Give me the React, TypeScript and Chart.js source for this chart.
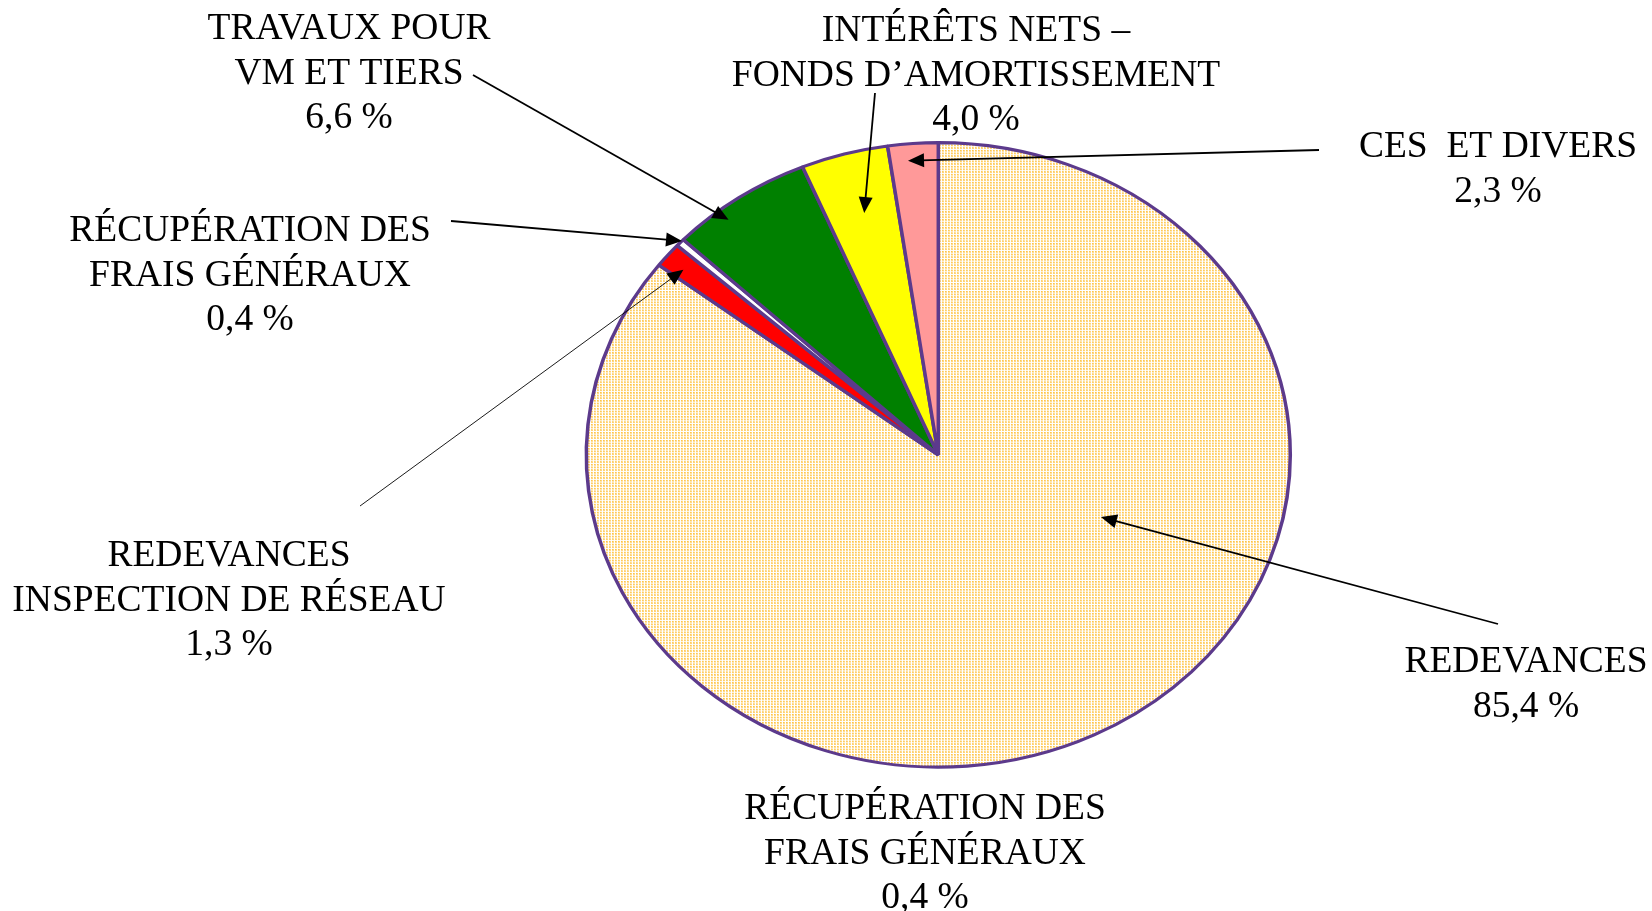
import React, { useEffect, useRef } from "react";
import { Chart, registerables } from "chart.js";

Chart.register(...registerables);

// ---- Data ----
const categories = [
  "REDEVANCES",
  "REDEVANCES INSPECTION DE RÉSEAU",
  "RÉCUPÉRATION DES FRAIS GÉNÉRAUX",
  "TRAVAUX POUR VM ET TIERS",
  "INTÉRÊTS NETS – FONDS D’AMORTISSEMENT",
  "CES  ET DIVERS",
];
const shares = [85.4, 1.3, 0.4, 6.6, 4.0, 2.3];
const sliceColors = ["pattern", "#FF0000", "#FFFFFF", "#008000", "#FFFF00", "#FF9999"];

// label text lines per slice (percentage appended from shares)
const labelLines = [
  ["REDEVANCES"],
  ["REDEVANCES", "INSPECTION DE RÉSEAU"],
  ["RÉCUPÉRATION DES", "FRAIS GÉNÉRAUX"],
  ["TRAVAUX POUR", "VM ET TIERS"],
  ["INTÉRÊTS NETS –", "FONDS D’AMORTISSEMENT"],
  ["CES  ET DIVERS"],
];

// ---- Layout (positions / styles) ----
const W = 1652;
const H = 911;
const RADIUS = 352;
const Y_SCALE = 0.887;
const BORDER = "#5C3A8C";
const FONT = "37.5px 'Liberation Serif', 'Times New Roman', serif";
const LINE_GAP = 44.5;

type Ann = {
  slice: number;
  x: number;
  y: number;
  from?: [number, number];
  frac?: number;
  rfrac?: number;
  lw?: number;
};
const annotations: Ann[] = [
  { slice: 0, x: 1526, y: 672, from: [1498, 624], frac: 0.3685, rfrac: 0.503, lw: 1.8 },
  { slice: 1, x: 229, y: 566, from: [360, 506], frac: 0.4, rfrac: 0.936, lw: 0.9 },
  { slice: 2, x: 250, y: 241, from: [451, 221], frac: 0.8, rfrac: 1.0, lw: 1.8 },
  { slice: 3, x: 349, y: 39, from: [473, 75], frac: 0.34, rfrac: 0.96, lw: 1.8 },
  { slice: 4, x: 976, y: 41, from: [875, 93], frac: 0.52, rfrac: 0.803, lw: 1.8 },
  { slice: 5, x: 1498, y: 157, from: [1319, 150], frac: 0.37, rfrac: 0.946, lw: 1.8 },
  { slice: 2, x: 925, y: 819 },
];

const fmtPct = (v: number) => v.toFixed(1).replace(".", ",") + " %";

function makePattern(): CanvasPattern | string {
  const c = document.createElement("canvas");
  c.width = 3;
  c.height = 3;
  const g = c.getContext("2d");
  if (!g) return "#FDE8BE";
  g.fillStyle = "#FFFFFF";
  g.fillRect(0, 0, 3, 3);
  g.fillStyle = "#FFD47A";
  g.fillRect(0, 0, 2, 2);
  g.fillStyle = "#FFC540";
  g.fillRect(0, 0, 1, 1);
  const p = g.createPattern(c, "repeat");
  return p || "#FDE8BE";
}

const ellipsePlugin = {
  id: "ellipse",
  beforeDatasetsDraw(chart: any) {
    const arc = chart.getDatasetMeta(0).data[0];
    if (!arc) return;
    const ctx = chart.ctx;
    ctx.save();
    ctx.translate(arc.x, arc.y);
    ctx.scale(1, Y_SCALE);
    ctx.translate(-arc.x, -arc.y);
  },
  afterDatasetsDraw(chart: any) {
    chart.ctx.restore();
  },
};

const labelPlugin = {
  id: "labels",
  afterDraw(chart: any) {
    const ctx: CanvasRenderingContext2D = chart.ctx;
    const arcs = chart.getDatasetMeta(0).data;
    ctx.save();
    for (const a of annotations) {
      // leader line + arrow
      if (a.from) {
        const arc: any = arcs[a.slice];
        const ang = arc.startAngle + (a.frac as number) * (arc.endAngle - arc.startAngle);
        const r = arc.outerRadius * (a.rfrac as number);
        const tx = arc.x + r * Math.cos(ang);
        const ty = arc.y + r * Math.sin(ang) * Y_SCALE;
        const [fx, fy] = a.from;
        const dx = tx - fx;
        const dy = ty - fy;
        const len = Math.hypot(dx, dy);
        const ux = dx / len;
        const uy = dy / len;
        const headL = 16;
        const headW = 7;
        ctx.strokeStyle = "#000";
        ctx.lineWidth = a.lw || 1.8;
        ctx.beginPath();
        ctx.moveTo(fx, fy);
        ctx.lineTo(tx - ux * headL * 0.8, ty - uy * headL * 0.8);
        ctx.stroke();
        ctx.fillStyle = "#000";
        ctx.beginPath();
        ctx.moveTo(tx, ty);
        ctx.lineTo(tx - ux * headL - uy * headW, ty - uy * headL + ux * headW);
        ctx.lineTo(tx - ux * headL + uy * headW, ty - uy * headL - ux * headW);
        ctx.closePath();
        ctx.fill();
      }
      // text
      const lines = [...labelLines[a.slice], fmtPct(shares[a.slice])];
      ctx.font = FONT;
      ctx.fillStyle = "#000";
      ctx.textAlign = "center";
      ctx.textBaseline = "alphabetic";
      lines.forEach((t, i) => ctx.fillText(t, a.x, a.y + i * LINE_GAP));
    }
    ctx.restore();
  },
};

export default function App() {
  const ref = useRef<HTMLCanvasElement | null>(null);
  useEffect(() => {
    if (!ref.current) return;
    const pattern = makePattern();
    const bg = sliceColors.map((c) => (c === "pattern" ? pattern : c));
    const chart = new Chart(ref.current, {
      type: "pie",
      data: {
        labels: categories,
        datasets: [
          {
            data: shares,
            backgroundColor: bg as any,
            borderColor: BORDER,
            borderWidth: 3.5,
          },
        ],
      },
      options: {
        responsive: false,
        animation: false,
        radius: RADIUS,
        layout: { padding: { left: 300, right: 75.4, top: 10, bottom: 11.2 } },
        plugins: {
          legend: { display: false },
          tooltip: { enabled: false },
        },
      } as any,
      plugins: [ellipsePlugin, labelPlugin],
    });
    return () => chart.destroy();
  }, []);
  return (
    <div style={{ position: "absolute", left: 0, top: 0, width: W, height: H, background: "#fff" }}>
      <canvas ref={ref} width={W} height={H} style={{ display: "block", width: W, height: H }} />
    </div>
  );
}
